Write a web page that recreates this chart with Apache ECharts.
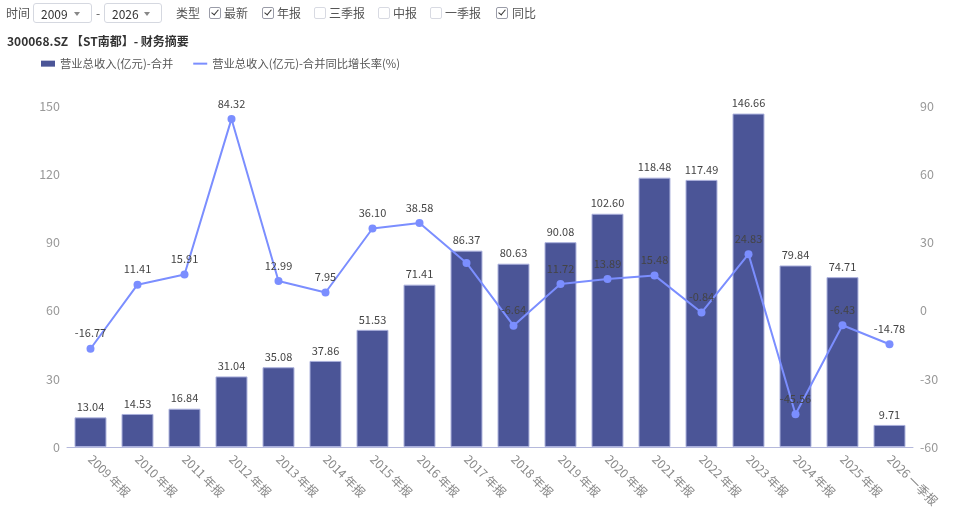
<!DOCTYPE html>
<html>
<head>
<meta charset="utf-8">
<script src="https://cdn.jsdelivr.net/npm/echarts@6/dist/echarts.min.js"></script>
<style>
  html, body { margin: 0; padding: 0; background: #fff; font-family: "Noto Sans CJK SC", "Noto Sans", sans-serif; }
  #wrap { position: relative; width: 960px; height: 511px; overflow: hidden; }
  #chart { position: absolute; left: 0; top: 0; width: 960px; height: 511px; }
  #ctrl { position: absolute; left: 0; top: 0; width: 960px; height: 28px; font-size: 12px; color: #555; z-index: 2; }
  .abs { position: absolute; white-space: nowrap; line-height: 14px; top: 6px; }
  .sel { position: absolute; top: 3px; height: 20px; border: 1px solid #d5d8e0; border-radius: 3px; box-sizing: border-box; font-size: 12px; color: #333; }
  .sel span { position: absolute; left: 7px; top: 2px; line-height: 15px; }
  .sel i { position: absolute; right: 11px; top: 8px; width: 0; height: 0; border-left: 3px solid transparent; border-right: 3px solid transparent; border-top: 4px solid #888; }
  .cb { position: absolute; top: 7px; width: 12px; height: 12px; border: 1px solid #9a9ca8; border-radius: 2px; box-sizing: border-box; background: #fff; }
  .cb.on::after { content: ""; position: absolute; left: 3px; top: 0px; width: 3px; height: 6px; border-right: 1.5px solid #333; border-bottom: 1.5px solid #333; transform: rotate(40deg); }
  .cb:not(.on) { border-color: #d8dae2; }
</style>
</head>
<body>
<div id="wrap">
  <div id="chart"></div>
  <div id="ctrl">
    <div class="abs" style="left:6px;">时间</div>
    <div class="sel" style="left:33px;width:59px;"><span>2009</span><i></i></div>
    <div class="abs" style="left:96px;">-</div>
    <div class="sel" style="left:104px;width:58px;"><span>2026</span><i></i></div>
    <div class="abs" style="left:176px;">类型</div>
    <div class="cb on" style="left:209px;"></div><div class="abs" style="left:224px;">最新</div>
    <div class="cb on" style="left:262px;"></div><div class="abs" style="left:277px;">年报</div>
    <div class="cb" style="left:314px;"></div><div class="abs" style="left:329px;">三季报</div>
    <div class="cb" style="left:378px;"></div><div class="abs" style="left:393px;">中报</div>
    <div class="cb" style="left:430px;"></div><div class="abs" style="left:445px;">一季报</div>
    <div class="cb on" style="left:496px;"></div><div class="abs" style="left:512px;">同比</div>
  </div>
</div>
<script>
const categories = ["2009 年报","2010 年报","2011 年报","2012 年报","2013 年报","2014 年报","2015 年报","2016 年报","2017 年报","2018 年报","2019 年报","2020 年报","2021 年报","2022 年报","2023 年报","2024 年报","2025 年报","2026 一季报"];
const revenue = [13.04,14.53,16.84,31.04,35.08,37.86,51.53,71.41,86.37,80.63,90.08,102.60,118.48,117.49,146.66,79.84,74.71,9.71];
const growth = [-16.77,11.41,15.91,84.32,12.99,7.95,36.10,38.58,20.95,-6.64,11.72,13.89,15.48,-0.84,24.83,-45.56,-6.43,-14.78];
const hiddenGrowthLabels = [8];
const leftTicks = {min: 0, max: 150, interval: 30};
const rightTicks = {min: -60, max: 90, interval: 30};
const seriesNames = ["营业总收入(亿元)-合并", "营业总收入(亿元)-合并同比增长率(%)"];
const titleText = "300068.SZ 【ST南都】- 财务摘要";

const FONT = '"Noto Sans CJK SC", "Noto Sans", sans-serif';
const chart = echarts.init(document.getElementById('chart'), null, {renderer: 'canvas'});
const growthData = growth.map((v, i) => {
  const item = {value: v};
  if (hiddenGrowthLabels.includes(i)) item.label = {show: false};
  return item;
});

chart.setOption({
  animation: false,
  textStyle: {fontFamily: FONT},
  title: {
    text: titleText, left: 2, top: 30,
    textStyle: {fontSize: 12, fontWeight: 'bold', color: '#333', fontFamily: FONT}
  },
  legend: {
    left: 36, top: 53, itemWidth: 14, itemHeight: 6, itemGap: 19,
    textStyle: {fontSize: 11.3, color: '#555', fontFamily: FONT},
    data: [
      {name: seriesNames[0], icon: 'rect', itemStyle: {borderWidth: 0}},
      {name: seriesNames[1], itemStyle: {opacity: 0}}
    ]
  },
  grid: {left: 67, right: 47, top: 106, bottom: 64, containLabel: false},
  xAxis: {
    type: 'category', data: categories,
    axisLine: {lineStyle: {color: '#b5b9dc'}},
    axisTick: {show: false},
    axisLabel: {rotate: -45, color: '#888', fontSize: 12, interval: 0, margin: 10, fontFamily: FONT}
  },
  yAxis: [
    {type: 'value', min: leftTicks.min, max: leftTicks.max, interval: leftTicks.interval,
     axisLine: {show: false}, axisTick: {show: false}, splitLine: {show: false},
     axisLabel: {color: '#999', fontSize: 12.5, margin: 7, fontFamily: FONT}},
    {type: 'value', min: rightTicks.min, max: rightTicks.max, interval: rightTicks.interval,
     axisLine: {show: false}, axisTick: {show: false}, splitLine: {show: false},
     axisLabel: {color: '#999', fontSize: 12.5, margin: 7, fontFamily: FONT}}
  ],
  series: [
    {
      name: seriesNames[0], type: 'bar', yAxisIndex: 0, data: revenue, barWidth: '68%',
      itemStyle: {color: '#4b5597', borderColor: '#aab0dc', borderWidth: 1},
      label: {show: true, position: 'top', distance: 5, color: '#444', fontSize: 11,
              formatter: p => Number(p.value).toFixed(2)}
    },
    {
      name: seriesNames[1], type: 'line', yAxisIndex: 1, data: growthData,
      symbol: 'circle', symbolSize: 8, showSymbol: true,
      itemStyle: {color: '#7b8eff'}, lineStyle: {color: '#7b8eff', width: 2},
      label: {show: true, position: 'top', distance: 6, color: '#444', fontSize: 11,
              formatter: p => Number(p.value).toFixed(2)},
      z: 3
    }
  ]
});
</script>
</body>
</html>
